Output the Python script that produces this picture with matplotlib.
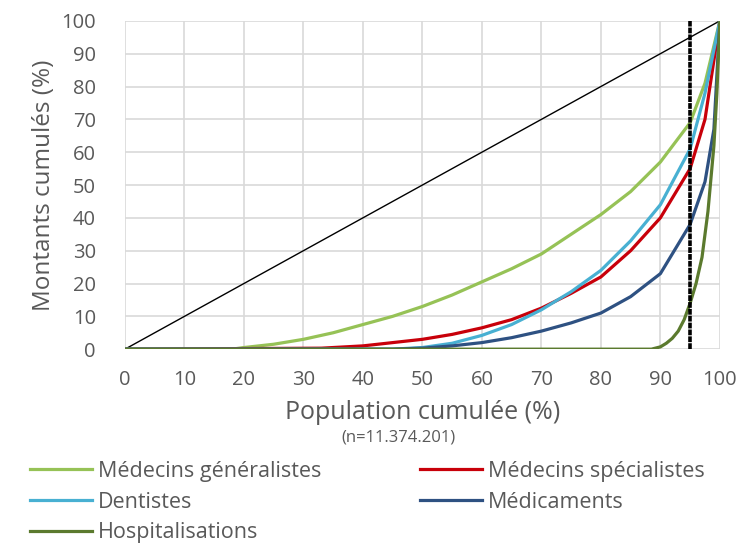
import numpy as np
import matplotlib.pyplot as plt

plt.rcParams['font.family'] = ['Open Sans', 'DejaVu Sans']

# Courbes de concentration
egal_x = [0, 100]
egal_y = [0, 100]

mg_x = [0, 18, 20, 25, 30, 35, 40, 45, 50, 55, 60, 65, 70, 75, 80, 85, 90, 95, 97.5, 100]
mg_y = [0, 0, 0.5, 1.5, 3, 5, 7.5, 10, 13, 16.5, 20.5, 24.5, 29, 35, 41, 48, 57, 69, 81, 100]

spec_x = [0, 33, 40, 45, 50, 55, 60, 65, 70, 75, 80, 85, 90, 95, 97.5, 100]
spec_y = [0, 0.3, 1, 2, 3, 4.5, 6.5, 9, 12.5, 17, 22, 30, 40, 55, 70, 100]

dent_x = [0, 45, 50, 55, 60, 65, 70, 75, 80, 85, 90, 95, 97.5, 100]
dent_y = [0, 0, 0.5, 1.8, 4.2, 7.5, 12, 17.5, 24, 33, 44, 61, 78, 100]

med_x = [0, 45, 50, 55, 60, 65, 70, 75, 80, 85, 90, 95, 97.5, 99, 100]
med_y = [0, 0, 0.3, 1, 2, 3.5, 5.5, 8, 11, 16, 23, 38, 51, 67, 100]

hosp_x = [0, 88.5, 90, 91, 92, 93, 94, 95, 96, 97, 98, 99, 99.5, 100]
hosp_y = [0, 0, 0.7, 1.8, 3.3, 5.5, 9, 14, 20, 28, 42, 62, 78, 100]

seuil = 95

grey = '#595959'

fig = plt.figure(figsize=(7.53, 5.49), dpi=100)
ax = fig.add_axes([0.166, 0.364, 0.790, 0.598])

ax.plot(egal_x, egal_y, color='black', lw=1.0, zorder=3)
l_mg, = ax.plot(mg_x, mg_y, color='#96C256', lw=2.3, label='Médecins généralistes', zorder=4)
l_spec, = ax.plot(spec_x, spec_y, color='#C8000A', lw=2.3, label='Médecins spécialistes', zorder=4)
l_dent, = ax.plot(dent_x, dent_y, color='#48B0D2', lw=2.3, label='Dentistes', zorder=4)
l_med, = ax.plot(med_x, med_y, color='#2E5182', lw=2.3, label='Médicaments', zorder=4)
l_hosp, = ax.plot(hosp_x, hosp_y, color='#5B7A2E', lw=2.3, label='Hospitalisations', zorder=5)
ax.axvline(seuil, color='black', lw=2.6, dashes=(1.6, 0.3), zorder=6)

ax.set_xlim(0, 100)
ax.set_ylim(0, 100)
ax.set_xticks(np.arange(0, 101, 10))
ax.set_yticks(np.arange(0, 101, 10))
ax.grid(True, color='#D9D9D9', lw=1.2)
ax.set_axisbelow(True)
for s in ax.spines.values():
    s.set_visible(False)
ax.tick_params(length=0, labelsize=14.5, labelcolor=grey, pad=15)
ax.tick_params(axis='y', pad=21)

ax.set_ylabel('Montants cumulés (%)', fontsize=17.5, color=grey, labelpad=4)
ax.set_xlabel('Population cumulée (%)', fontsize=18, color=grey, labelpad=7)
fig.text(0.529, 0.203, '(n=11.374.201)', fontsize=12, color=grey, ha='center', va='center')

# ordre par lignes comme dans l'original
hs = [l_mg, l_dent, l_hosp, l_spec, l_med]
leg = fig.legend(hs, [h.get_label() for h in hs], loc='upper left', bbox_to_anchor=(0.028, 0.176),
                 ncol=2, frameon=False, fontsize=15.5, handlelength=2.9, handletextpad=0.25,
                 columnspacing=4.6, labelspacing=0.45, borderaxespad=0)
for t in leg.get_texts():
    t.set_color(grey)

fig.savefig('out.png', dpi=100)
